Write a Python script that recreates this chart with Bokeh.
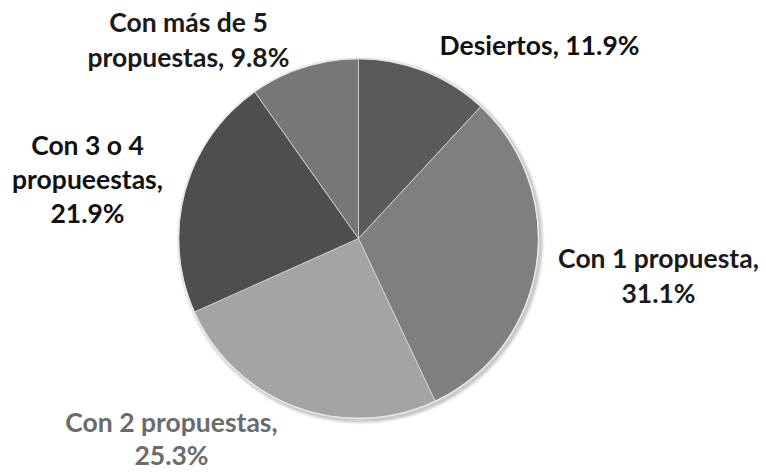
import numpy as np
from bokeh.plotting import figure
from bokeh.models import Range1d, ColumnDataSource
from bokeh.core.properties import value
from bokeh.embed import file_html
from bokeh.resources import INLINE

# ---- data ----
categories = ["Desiertos", "Con 1 propuesta", "Con 2 propuestas",
              "Con 3 o 4 propueestas", "Con más de 5 propuestas"]
shares = [11.9, 31.1, 25.3, 21.9, 9.8]
colors = ["#5a5a5a", "#7f7f7f", "#a4a4a4", "#4e4e4e", "#777777"]

# label lines (text), per slice
label_lines = [
    ["Desiertos, 11.9%"],
    ["Con 1 propuesta,", "31.1%"],
    ["Con 2 propuestas,", "25.3%"],
    ["Con 3 o 4", "propueestas,", "21.9%"],
    ["Con más de 5", "propuestas, 9.8%"],
]
label_colors = ["#111111", "#1a1a1a", "#6b6b6b", "#111111", "#1a1a1a"]
# label layout (page pixel coords: centre x, first baseline y, line gap)
label_x = [539, 658, 171, 87, 188]
label_y0 = [55, 268, 432, 155, 32]
label_gap = [35, 35, 33, 34, 35]
TEXT_DY = 11  # renderer baseline correction

W, H = 766, 472

def py(y):  # page y -> data y
    return H - y

p = figure(width=W, height=H, output_backend="svg", toolbar_location=None,
           x_axis_type=None, y_axis_type=None, min_border=0,
           x_range=Range1d(0, W), y_range=Range1d(0, H))
p.outline_line_color = None
p.grid.visible = False
p.background_fill_color = "white"
p.border_fill_color = "white"

cx, cy, r = 358, py(238), 180

# soft shadow
for i, a in enumerate([0.04, 0.05, 0.06, 0.07]):
    p.circle(x=cx + 2, y=cy - 2, radius=r + 4 - i, fill_color="#000000",
             fill_alpha=a, line_color=None)

vals = np.array(shares, dtype=float)
frac = vals / vals.sum()
cum = np.concatenate([[0.0], np.cumsum(frac)])
start = np.pi / 2 - 2 * np.pi * cum[:-1]
end = np.pi / 2 - 2 * np.pi * cum[1:]

src = ColumnDataSource(dict(cat=categories, start=start, end=end, color=colors))
p.wedge(x=cx, y=cy, radius=r, start_angle="start", end_angle="end",
        direction="clock", fill_color="color", line_color="#d8d8d8",
        line_width=1, line_alpha=0.8, source=src)
p.circle(x=cx, y=cy, radius=r, fill_color=None, line_color="#e8e8e8",
         line_width=1.5)

xs, ys, ts, cs = [], [], [], []
for i, lines in enumerate(label_lines):
    for j, t in enumerate(lines):
        xs.append(label_x[i])
        ys.append(py(label_y0[i] + j * label_gap[i] - TEXT_DY))
        ts.append(t)
        cs.append(label_colors[i])

p.text(x=xs, y=ys, text=ts, text_color=cs, text_align="center",
       text_baseline="alphabetic", text_font=value("Lato"),
       text_font_style="bold", text_font_size="26.5px")

open("out.html", "w").write(file_html(p, INLINE))
